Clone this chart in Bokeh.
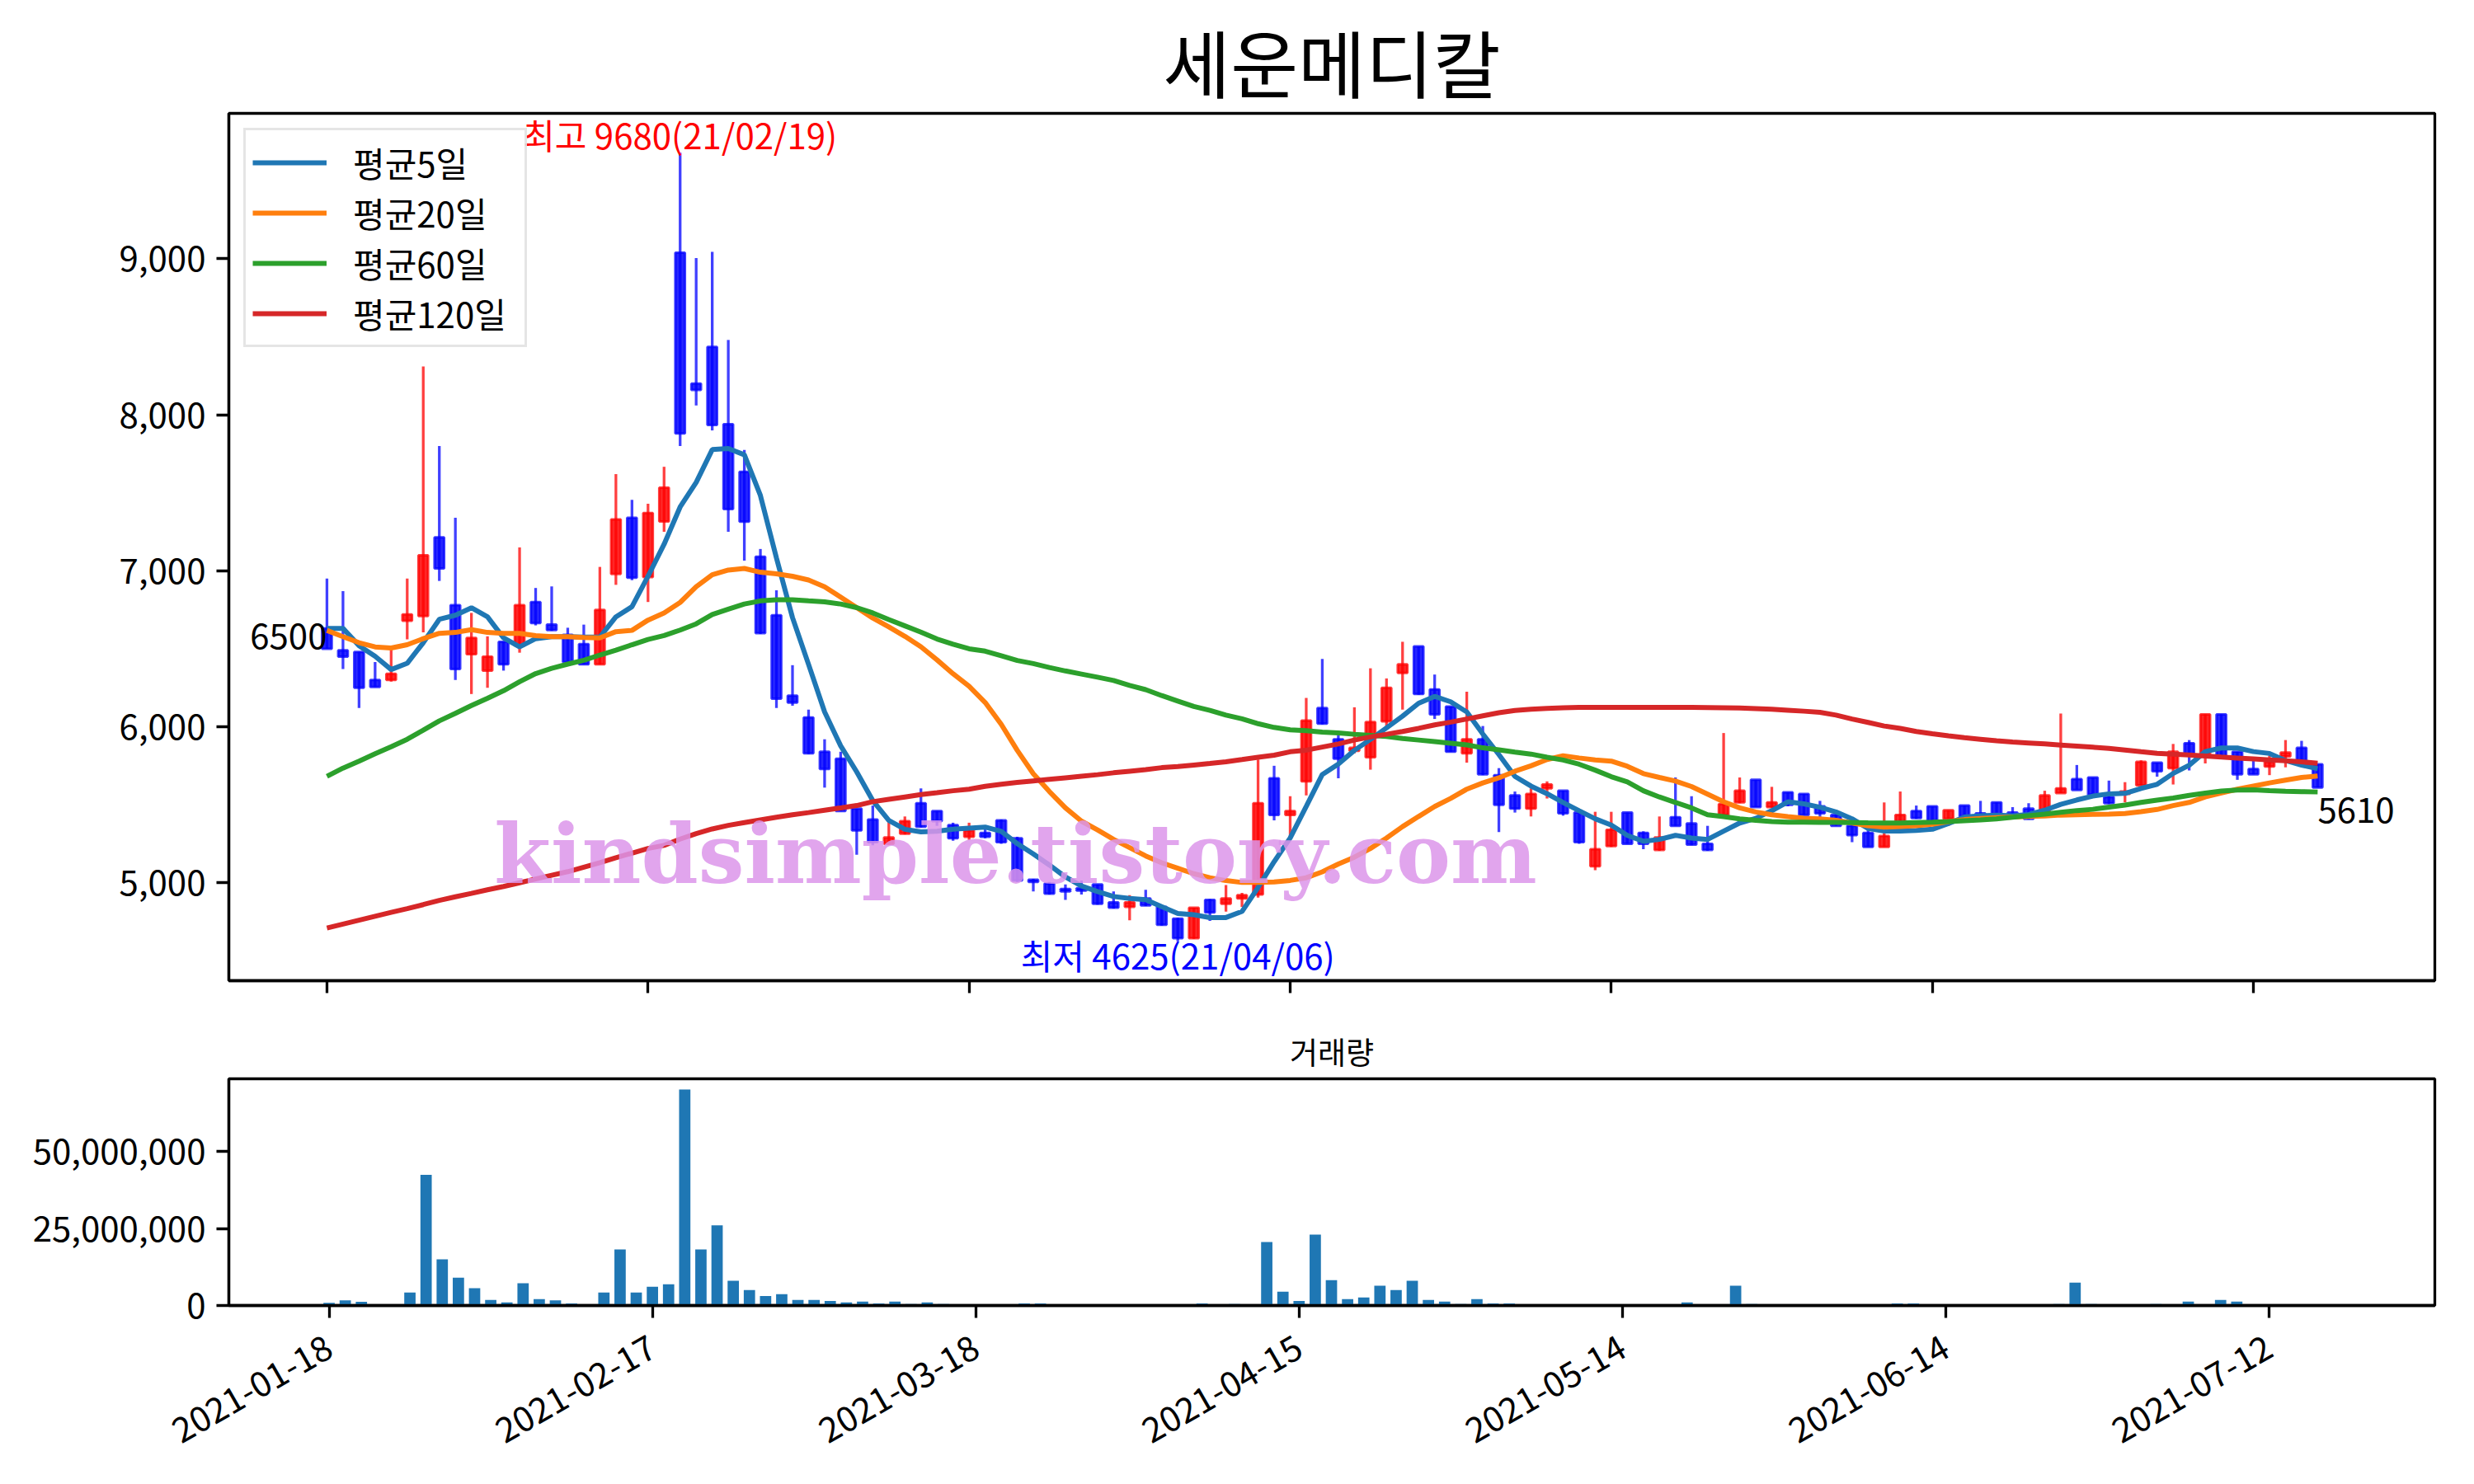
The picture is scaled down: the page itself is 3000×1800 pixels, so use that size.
import math
from bokeh.plotting import figure
from bokeh.layouts import column
from bokeh.models import (ColumnDataSource, Range1d, FixedTicker, NumeralTickFormatter,
                          Label, Legend, LegendItem)
from bokeh.embed import file_html
from bokeh.resources import INLINE

FONT = "Noto Sans CJK KR"

title_text = "세운메디칼"
tick_idx = [0, 20, 40, 60, 80, 100, 120]
tick_labels = ["2021-01-18", "2021-02-17", "2021-03-18", "2021-04-15",
               "2021-05-14", "2021-06-14", "2021-07-12"]

opens = [6630, 6490, 6480, 6300, 6300, 6680, 6710, 7215, 6780, 6465,
         6360, 6545, 6520, 6800, 6655, 6590, 6530, 6400, 6980, 7340,
         6960, 7316, 9040, 8200, 8435, 7940, 7635, 7090, 6715, 6200,
         6060, 5840, 5795, 5475, 5405, 5250, 5315, 5510, 5460, 5370,
         5295, 5320, 5400, 5285, 5020, 4995, 4960, 4965, 4990, 4875,
         4845, 4900, 4845, 4770, 4645, 4890, 4865, 4900, 4925, 5670,
         5435, 5650, 6120, 5920, 5845, 5805, 6035, 6345, 6515, 6240,
         6130, 5830, 5920, 5690, 5560, 5475, 5605, 5590, 5450, 5105,
         5235, 5450, 5320, 5210, 5420, 5380, 5250, 5435, 5515, 5660,
         5485, 5580, 5570, 5490, 5435, 5365, 5320, 5230, 5355, 5460,
         5490, 5410, 5495, 5445, 5515, 5450, 5475, 5430, 5575, 5665,
         5675, 5550, 5570, 5625, 5770, 5735, 5895, 5825, 6080, 5840,
         5730, 5745, 5810, 5865, 5760]
highs = [6950, 6870, 6480, 6415, 6500, 6950, 8310, 7800, 7340, 6730,
         6580, 6545, 7150, 6890, 6900, 6635, 6655, 7025, 7620, 7455,
         7430, 7667, 9680, 9005, 9045, 8480, 7775, 7140, 6875, 6395,
         6110, 5920, 5840, 5475, 5495, 5395, 5425, 5605, 5460, 5385,
         5385, 5345, 5405, 5295, 5025, 5005, 4990, 5015, 4990, 4945,
         4920, 4955, 4850, 4775, 4840, 4895, 4985, 4935, 5790, 5750,
         5555, 6185, 6435, 5945, 6125, 6375, 6310, 6545, 6515, 6335,
         6130, 6225, 6005, 5735, 5585, 5605, 5650, 5590, 5450, 5455,
         5455, 5450, 5330, 5425, 5675, 5555, 5365, 5960, 5675, 5660,
         5615, 5580, 5570, 5525, 5440, 5390, 5355, 5515, 5585, 5495,
         5490, 5465, 5495, 5525, 5515, 5485, 5510, 5590, 6085, 5755,
         5675, 5655, 5645, 5785, 5770, 5890, 5915, 6080, 6080, 5840,
         5800, 5815, 5915, 5910, 5760]
lows = [6500, 6370, 6120, 6255, 6290, 6560, 6605, 6935, 6300, 6210,
        6250, 6360, 6475, 6650, 6615, 6415, 6400, 6400, 6910, 6940,
        6800, 7250, 7800, 8060, 7900, 7250, 7065, 6595, 6120, 6135,
        5825, 5610, 5460, 5180, 5240, 5240, 5310, 5355, 5365, 5270,
        5275, 5285, 5250, 5005, 4945, 4925, 4890, 4925, 4860, 4835,
        4760, 4850, 4725, 4625, 4640, 4755, 4815, 4845, 4905, 5400,
        5290, 5560, 6015, 5670, 5830, 5725, 6000, 6110, 6205, 6050,
        5840, 5770, 5690, 5325, 5450, 5425, 5540, 5430, 5250, 5080,
        5230, 5250, 5215, 5205, 5365, 5240, 5205, 5435, 5510, 5485,
        5480, 5490, 5435, 5420, 5365, 5260, 5230, 5230, 5355, 5410,
        5380, 5365, 5425, 5425, 5430, 5425, 5405, 5425, 5575, 5595,
        5565, 5505, 5515, 5625, 5680, 5630, 5720, 5765, 5800, 5660,
        5695, 5690, 5740, 5780, 5610]
closes = [6500, 6450, 6250, 6255, 6340, 6720, 7100, 7015, 6370, 6570,
          6450, 6400, 6780, 6665, 6620, 6415, 6400, 6750, 7330, 6955,
          7370, 7533, 7880, 8160, 7935, 7395, 7315, 6600, 6180, 6155,
          5830, 5730, 5460, 5335, 5260, 5290, 5395, 5360, 5395, 5285,
          5335, 5295, 5260, 5015, 5005, 4930, 4945, 4950, 4865, 4840,
          4875, 4855, 4730, 4645, 4840, 4810, 4900, 4920, 5510, 5435,
          5460, 6040, 6020, 5795, 5865, 6030, 6250, 6400, 6210, 6080,
          5840, 5920, 5695, 5500, 5475, 5570, 5630, 5445, 5260, 5215,
          5340, 5250, 5250, 5290, 5365, 5245, 5210, 5505, 5590, 5485,
          5515, 5500, 5435, 5445, 5365, 5305, 5230, 5300, 5435, 5415,
          5385, 5465, 5425, 5430, 5435, 5430, 5410, 5560, 5605, 5595,
          5565, 5510, 5585, 5775, 5715, 5840, 5815, 6080, 5805, 5695,
          5695, 5775, 5835, 5780, 5610]
volume = [900000, 1700000, 1200000, 400000, 400000, 4200000, 42400000, 15000000, 9000000, 5600000,
          1800000, 1000000, 7200000, 2100000, 1700000, 700000, 400000, 4200000, 18200000, 4200000,
          6100000, 6900000, 70100000, 18200000, 26000000, 8000000, 5000000, 3100000, 3700000, 1800000,
          1800000, 1500000, 1000000, 1300000, 700000, 1300000, 450000, 1000000, 450000, 200000,
          200000, 50000, 200000, 700000, 700000, 200000, 200000, 200000, 200000, 200000,
          200000, 200000, 200000, 200000, 700000, 100000, 450000, 100000, 20600000, 4500000,
          1500000, 23000000, 8200000, 2100000, 2600000, 6400000, 5000000, 8000000, 1800000, 1300000,
          450000, 2100000, 700000, 700000, 50000, 200000, 200000, 100000, 100000, 200000,
          200000, 100000, 100000, 100000, 1000000, 200000, 100000, 6400000, 450000, 200000,
          200000, 100000, 100000, 50000, 50000, 50000, 100000, 700000, 700000, 100000,
          50000, 50000, 100000, 50000, 50000, 100000, 100000, 450000, 7400000, 450000,
          200000, 200000, 100000, 450000, 200000, 1300000, 200000, 1800000, 1300000, 200000,
          100000, 100000, 200000, 200000, 100000]
ma5 = [6631, 6631, 6520, 6452, 6367, 6407, 6539, 6689, 6715, 6763,
       6705, 6570, 6512, 6565, 6578, 6578, 6575, 6575, 6705, 6770,
       6965, 7170, 7409, 7567, 7777, 7784, 7744, 7483, 7082, 6700,
       6400, 6095, 5878, 5711, 5527, 5400, 5343, 5326, 5330, 5343,
       5350, 5357, 5330, 5251, 5185, 5114, 5037, 4979, 4944, 4912,
       4900, 4891, 4847, 4803, 4795, 4777, 4777, 4816, 4970, 5135,
       5287, 5489, 5694, 5761, 5849, 5919, 5993, 6068, 6151, 6195,
       6160, 6095, 5954, 5822, 5682, 5620, 5571, 5515, 5462, 5410,
       5370, 5304, 5266, 5278, 5304, 5287, 5278, 5331, 5383, 5413,
       5462, 5519, 5506, 5484, 5454, 5410, 5348, 5331, 5331, 5336,
       5343, 5380, 5421, 5429, 5433, 5429, 5438, 5465, 5503, 5531,
       5556, 5570, 5573, 5605, 5631, 5701, 5754, 5841, 5864, 5864,
       5841, 5829, 5784, 5754, 5731]
ma20 = [6618, 6578, 6539, 6512, 6505, 6526, 6565, 6599, 6605, 6623,
        6605, 6599, 6599, 6584, 6578, 6578, 6573, 6570, 6610, 6618,
        6684, 6730, 6797, 6898, 6975, 7005, 7015, 6991, 6981, 6965,
        6941, 6898, 6831, 6764, 6697, 6640, 6580, 6513, 6429, 6340,
        6260, 6156, 6016, 5849, 5699, 5585, 5480, 5395, 5339, 5278,
        5225, 5172, 5128, 5093, 5058, 5032, 5014, 5002, 5002, 5005,
        5015, 5032, 5070, 5120, 5164, 5220, 5287, 5360, 5425, 5489,
        5541, 5600, 5640, 5673, 5715, 5750, 5790, 5814, 5800, 5787,
        5780, 5747, 5700, 5675, 5652, 5617, 5568, 5519, 5480, 5454,
        5436, 5424, 5413, 5410, 5401, 5383, 5366, 5357, 5361, 5366,
        5375, 5392, 5405, 5412, 5418, 5422, 5425, 5428, 5434, 5436,
        5438, 5440, 5444, 5456, 5470, 5495, 5515, 5550, 5575, 5600,
        5620, 5640, 5658, 5675, 5684]
ma60 = [5682, 5735, 5780, 5827, 5872, 5920, 5978, 6038, 6086, 6136,
        6183, 6231, 6289, 6341, 6375, 6402, 6426, 6460, 6491, 6526,
        6560, 6585, 6620, 6660, 6720, 6754, 6787, 6807, 6814, 6814,
        6807, 6801, 6787, 6764, 6730, 6687, 6647, 6607, 6563, 6530,
        6500, 6485, 6455, 6425, 6405, 6380, 6358, 6338, 6318, 6297,
        6265, 6238, 6200, 6165, 6130, 6105, 6075, 6051, 6020, 5996,
        5980, 5975, 5966, 5960, 5952, 5945, 5938, 5925, 5915, 5905,
        5895, 5884, 5865, 5852, 5838, 5825, 5805, 5787, 5760, 5722,
        5680, 5647, 5590, 5550, 5515, 5480, 5436, 5424, 5410, 5400,
        5393, 5389, 5388, 5387, 5387, 5386, 5384, 5383, 5383, 5386,
        5389, 5393, 5398, 5403, 5410, 5420, 5430, 5440, 5452, 5463,
        5471, 5485, 5498, 5515, 5530, 5543, 5560, 5575, 5588, 5594,
        5596, 5590, 5586, 5584, 5582]
ma120 = [4710, 4735, 4760, 4785, 4810, 4834, 4860, 4887, 4910, 4932,
         4955, 4976, 5000, 5024, 5048, 5071, 5100, 5129, 5160, 5190,
         5220, 5240, 5280, 5315, 5345, 5368, 5386, 5403, 5420, 5436,
         5450, 5465, 5480, 5495, 5520, 5535, 5550, 5565, 5577, 5590,
         5600, 5618, 5632, 5643, 5653, 5663, 5673, 5683, 5693, 5705,
         5715, 5725, 5738, 5745, 5755, 5765, 5776, 5790, 5805, 5818,
         5840, 5850, 5870, 5890, 5915, 5935, 5952, 5970, 5990, 6012,
         6030, 6050, 6070, 6090, 6105, 6112, 6118, 6122, 6125, 6125,
         6125, 6125, 6125, 6125, 6125, 6124, 6123, 6122, 6120, 6117,
         6112, 6106, 6100, 6093, 6075, 6050, 6028, 6005, 5990, 5970,
         5955, 5942, 5930, 5920, 5910, 5902, 5896, 5890, 5883, 5876,
         5869, 5861, 5851, 5840, 5830, 5824, 5819, 5813, 5806, 5800,
         5794, 5788, 5782, 5775, 5766]

hi_text = "최고 9680(21/02/19)"
lo_text = "최저 4625(21/04/06)"
watermark = "kindsimple.tistory.com"

n = len(closes)
idx = list(range(n))
cols = ["#ff0000" if c >= o else "#0000ff" for o, c in zip(opens, closes)]
src = ColumnDataSource(dict(
    x=idx, o=opens, h=highs, l=lows, c=closes,
    top=[max(o, c) for o, c in zip(opens, closes)],
    bot=[min(o, c) for o, c in zip(opens, closes)],
    col=cols, vol=volume,
    ma5=ma5, ma20=ma20, ma60=ma60, ma120=ma120))

i_hi = highs.index(max(highs))
i_lo = lows.index(min(lows))

TICK_PX = "42px"


def style_axes(fig):
    fig.grid.visible = False
    fig.outline_line_color = "black"
    fig.outline_line_width = 3.3
    fig.outline_line_alpha = 1.0
    for ax in (fig.xaxis[0], fig.yaxis[0]):
        ax.axis_line_color = "black"
        ax.axis_line_width = 3.3
        ax.major_tick_line_width = 3.3
        ax.major_tick_out = 15
        ax.major_tick_in = 0
        ax.minor_tick_line_color = None
        ax.major_label_text_font = FONT
        ax.major_label_text_font_size = TICK_PX
        ax.major_label_text_color = "black"
        ax.major_label_standoff = 13


# ---------------- main price panel ----------------
p = figure(width=2984, height=1237, output_backend="svg", toolbar_location=None,
           x_range=Range1d(-6.11, 131.3), y_range=Range1d(4372.25, 9932.75),
           min_border_left=277, min_border_right=32, min_border_top=137,
           min_border_bottom=48)
style_axes(p)
p.title.text = title_text
p.title.align = "center"
p.title.text_font = FONT
p.title.text_font_size = "89px"
p.title.text_font_style = "normal"
p.title.text_color = "black"
p.title.standoff = 0

p.xaxis.ticker = FixedTicker(ticks=tick_idx)
p.xaxis.major_label_overrides = {t: " " for t in tick_idx}
p.xaxis.major_label_text_font_size = "1px"
p.yaxis.ticker = FixedTicker(ticks=[5000, 6000, 7000, 8000, 9000])
p.yaxis.formatter = NumeralTickFormatter(format="0,0")

p.segment(x0="x", y0="l", x1="x", y1="h", source=src, line_color="col",
          line_width=3.3, line_alpha=0.75)
p.vbar(x="x", width=0.6, bottom="bot", top="top", source=src,
       fill_color="col", fill_alpha=0.85, line_color="col", line_alpha=0.75,
       line_width=3)

r5 = p.line("x", "ma5", source=src, line_color="#1f77b4", line_width=6)
r20 = p.line("x", "ma20", source=src, line_color="#ff7f0e", line_width=6)
r60 = p.line("x", "ma60", source=src, line_color="#2ca02c", line_width=6)
r120 = p.line("x", "ma120", source=src, line_color="#d62728", line_width=6)

legend = Legend(items=[LegendItem(label="평균5일", renderers=[r5]),
                       LegendItem(label="평균20일", renderers=[r20]),
                       LegendItem(label="평균60일", renderers=[r60]),
                       LegendItem(label="평균120일", renderers=[r120])],
                location="top_left")
legend.label_text_font = FONT
legend.label_text_font_size = "42px"
legend.label_text_color = "black"
legend.glyph_width = 90
legend.glyph_height = 42
legend.label_height = 42
legend.label_width = 200
legend.label_standoff = 32
legend.spacing = 0
legend.padding = 8
legend.margin = 18
legend.border_line_color = "#cccccc"
legend.border_line_width = 3
legend.background_fill_alpha = 0.8
p.add_layout(legend)

p.add_layout(Label(x=i_hi, y=highs[i_hi], text=hi_text, text_align="center",
                   text_baseline="bottom", text_color="#ff0000", y_offset=-8,
                   text_font=FONT, text_font_size="42px"))
p.add_layout(Label(x=i_lo, y=lows[i_lo], text=lo_text, text_align="center",
                   text_baseline="top", text_color="#0000ff", y_offset=15,
                   text_font=FONT, text_font_size="42px"))
p.add_layout(Label(x=0, y=closes[0], text=str(closes[0]), text_align="right",
                   text_baseline="bottom", text_color="black", y_offset=0,
                   text_font=FONT, text_font_size="42px"))
p.add_layout(Label(x=n - 1, y=closes[-1], text=str(closes[-1]), text_align="left",
                   text_baseline="top", text_color="black", y_offset=-12,
                   text_font=FONT, text_font_size="42px"))
p.add_layout(Label(x=42.9, y=5186, text=watermark, text_align="center",
                   text_baseline="middle", text_color="#dc95ea", text_alpha=0.85,
                   text_font="DejaVu Serif", text_font_style="bold",
                   text_font_size="99px"))

# ---------------- volume panel ----------------
v = figure(width=2984, height=552, output_backend="svg", toolbar_location=None,
           x_range=Range1d(-6.2, 130.25), y_range=Range1d(0, max(volume) * 1.05),
           min_border_left=277, min_border_right=32, min_border_top=71,
           min_border_bottom=206)
style_axes(v)
v.title.text = "거래량"
v.title.align = "center"
v.title.text_font = FONT
v.title.text_font_size = "37px"
v.title.text_font_style = "normal"
v.title.text_color = "black"
v.title.standoff = 14

v.vbar(x="x", top="vol", width=0.7, source=src, fill_color="#1f77b4",
       line_color=None)
v.xaxis.ticker = FixedTicker(ticks=tick_idx)
v.xaxis.major_label_overrides = dict(zip(tick_idx, tick_labels))
v.xaxis.major_label_orientation = math.pi / 6
v.xaxis.major_label_standoff = 32
v.yaxis.ticker = FixedTicker(ticks=[0, 25000000, 50000000])
v.yaxis.formatter = NumeralTickFormatter(format="0,0")

layout = column(p, v)
open("out.html", "w").write(file_html(layout, INLINE))
